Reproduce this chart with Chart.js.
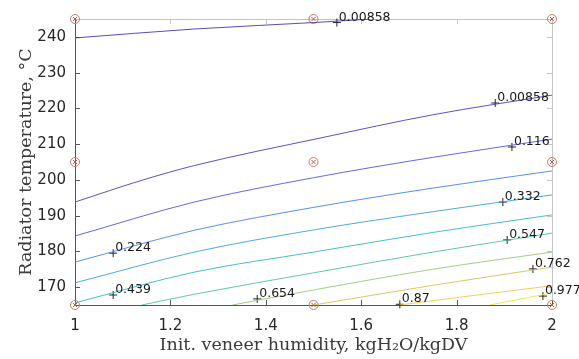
<!DOCTYPE html>
<html>
<head>
<meta charset="utf-8">
<script src="https://cdn.jsdelivr.net/npm/chart.js@4.4.0/dist/chart.umd.min.js"></script>
<style>
  html, body { margin: 0; padding: 0; background: #fff; }
  #wrap { width: 579px; height: 359px; }
</style>
</head>
<body>
<div id="wrap"><canvas id="myChart"></canvas></div>
<script>
// axis ticks
const xTicks = [1, 1.2, 1.4, 1.6, 1.8, 2];
const yTicks = [170, 180, 190, 200, 210, 220, 230, 240];

// contour lines, [humidity, temperature]
const line00858top = [[1, 239.7], [1.25, 242.2], [1.5, 244.0], [1.62, 245]];
const line00858 = [[1, 193.8], [1.143, 200.0], [1.25, 204.0], [1.514, 211.7], [1.75, 218.2], [2, 223.7]];
const line0116 = [[1, 184.3], [1.25, 193.8], [1.5, 200.6], [1.75, 206.3], [2, 211.4]];
const line0224 = [[1, 177.0], [1.25, 185.9], [1.5, 192.3], [1.75, 197.7], [2, 202.5]];
const line0332 = [[1, 171.2], [1.25, 179.8], [1.5, 186.0], [1.75, 191.1], [2, 195.8]];
const line0439 = [[1, 165.6], [1.25, 174.2], [1.5, 179.8], [1.75, 185.3], [2, 190.2]];
const line0547 = [[1.14, 165], [1.25, 168.0], [1.5, 174.0], [1.75, 179.8], [2, 185.1]];
const line0654 = [[1.33, 165], [1.5, 169.2], [1.75, 175.0], [2, 179.8]];
const line0762 = [[1.5, 165], [1.75, 170.5], [2, 175.6]];
const line087 = [[1.68, 165], [1.85, 167.9], [2, 170.4]];
const line0977 = [[1.87, 165], [2, 168.4]];

// contour labels
const labelText = ['0.00858', '0.00858', '0.116', '0.224', '0.332', '0.439', '0.547', '0.654', '0.762', '0.87', '0.977'];
const labelX = [1.549, 1.881, 1.916, 1.080, 1.897, 1.080, 1.906, 1.382, 1.960, 1.681, 1.981];
const labelY = [244.0, 221.5, 209.2, 179.5, 193.8, 167.8, 183.2, 166.7, 175.1, 165.2, 167.5];

// design points
const gridX = [1, 1, 1, 1.5, 1.5, 1.5, 2, 2, 2];
const gridY = [165, 205, 245, 165, 205, 245, 165, 205, 245];

var lines = [line00858top, line00858, line0116, line0224, line0332, line0439,
             line0547, line0654, line0762, line087, line0977];
// parula-ish, one per level
var lineColors = ['#4838b0', '#4a40b8', '#5258e0', '#3f84ee', '#3aa2e0', '#2fb8c8',
                  '#4cc2a2', '#98c770', '#d6c250', '#f0c94a', '#f0e830'];

var datasets = lines.map(function(pts, i) {
    return {
        label: labelText[i],
        data: pts.map(function(p) { return {x: p[0], y: p[1]}; }),
        showLine: true,
        borderColor: lineColors[i],
        borderWidth: 0.9,
        pointRadius: 0,
        fill: false,
        cubicInterpolationMode: 'monotone'
    };
});

var gridPts = gridX.map(function(x, i) { return {x: x, y: gridY[i]}; });
datasets.push({
    label: 'grid',
    data: gridPts,
    pointStyle: 'circle',
    pointRadius: 4.5,
    borderColor: '#d2765f',
    backgroundColor: 'rgba(0,0,0,0)',
    borderWidth: 1,
    clip: false
});
datasets.push({
    label: 'gridx',
    data: gridPts,
    pointStyle: 'crossRot',
    pointRadius: 3,
    borderColor: '#a0665a',
    borderWidth: 1,
    clip: false
});
datasets.push({
    label: 'marks',
    data: labelX.map(function(x, i) { return {x: x, y: labelY[i]}; }),
    pointStyle: 'cross',
    pointRadius: 4,
    borderColor: '#222',
    borderWidth: 1,
    clip: false
});

var frame = {
    id: 'frame',
    beforeDatasetsDraw: function(chart) {
        var c = chart.ctx, a = chart.chartArea;
        var xs = chart.scales.x, ys = chart.scales.y;
        c.save();
        c.lineWidth = 1;
        // top + right, light
        c.strokeStyle = '#c4c4c4';
        c.beginPath();
        c.moveTo(a.left, a.top + 0.5); c.lineTo(a.right, a.top + 0.5);
        c.moveTo(a.right + 0.5, a.top); c.lineTo(a.right + 0.5, a.bottom);
        xTicks.forEach(function(v) {
            var px = Math.round(xs.getPixelForValue(v)) + 0.5;
            c.moveTo(px, a.top); c.lineTo(px, a.top + 5);
        });
        yTicks.forEach(function(v) {
            var py = Math.round(ys.getPixelForValue(v)) + 0.5;
            c.moveTo(a.right, py); c.lineTo(a.right - 5, py);
        });
        c.stroke();
        // left + bottom, dark
        c.strokeStyle = '#555';
        c.beginPath();
        c.moveTo(a.left + 0.5, a.top); c.lineTo(a.left + 0.5, a.bottom);
        c.moveTo(a.left, a.bottom + 0.5); c.lineTo(a.right, a.bottom + 0.5);
        xTicks.forEach(function(v) {
            var px = Math.round(xs.getPixelForValue(v)) + 0.5;
            c.moveTo(px, a.bottom); c.lineTo(px, a.bottom - 5);
        });
        yTicks.forEach(function(v) {
            var py = Math.round(ys.getPixelForValue(v)) + 0.5;
            c.moveTo(a.left, py); c.lineTo(a.left + 5, py);
        });
        c.stroke();
        c.restore();
    },
    afterDatasetsDraw: function(chart) {
        var c = chart.ctx;
        var xs = chart.scales.x, ys = chart.scales.y;
        c.save();
        c.font = '12.5px "DejaVu Sans"';
        c.fillStyle = '#1a1a1a';
        c.textAlign = 'left';
        c.textBaseline = 'alphabetic';
        labelText.forEach(function(t, i) {
            c.fillText(t, xs.getPixelForValue(labelX[i]) + 2, ys.getPixelForValue(labelY[i]) - 2);
        });
        c.restore();
    }
};

var ctx = document.getElementById("myChart");

var options = {
    responsive: true,
    maintainAspectRatio: false,
    animation: false,
    layout: { padding: { top: 19, right: 27, left: 0, bottom: 0 } },
    plugins: { legend: { display: false }, tooltip: { enabled: false } },
    scales: {
        x: {
            type: 'linear',
            min: 1,
            max: 2,
            afterBuildTicks: function(s) { s.ticks = xTicks.map(function(v) { return {value: v}; }); },
            afterFit: function(s) { s.height = 54; },
            grid: { display: false, drawTicks: false },
            border: { display: false },
            ticks: {
                padding: 12,
                color: '#262626',
                font: { family: 'DejaVu Sans', size: 15 },
                maxRotation: 0,
                callback: function(v) { return String(v); }
            },
            title: {
                display: true,
                text: 'Init. veneer humidity, kgH\u2082O/kgDV',
                color: '#3a3a3a',
                font: { family: 'DejaVu Serif', size: 17.5 },
                padding: { top: 0, bottom: 3 }
            }
        },
        y: {
            type: 'linear',
            min: 165,
            max: 245,
            afterBuildTicks: function(s) { s.ticks = yTicks.map(function(v) { return {value: v}; }); },
            afterFit: function(s) { s.width = 75; },
            grid: { display: false, drawTicks: false },
            border: { display: false },
            ticks: {
                padding: 9,
                color: '#262626',
                font: { family: 'DejaVu Sans', size: 15 }
            },
            title: {
                display: true,
                text: 'Radiator temperature, \u00b0C',
                color: '#3a3a3a',
                font: { family: 'DejaVu Serif', size: 17.5 },
                padding: { top: 16, bottom: 0 }
            }
        }
    }
};

var chart = new Chart(ctx, {
    type: 'scatter',
    data: { datasets: datasets },
    options: options,
    plugins: [frame]
});
</script>
</body>
</html>
